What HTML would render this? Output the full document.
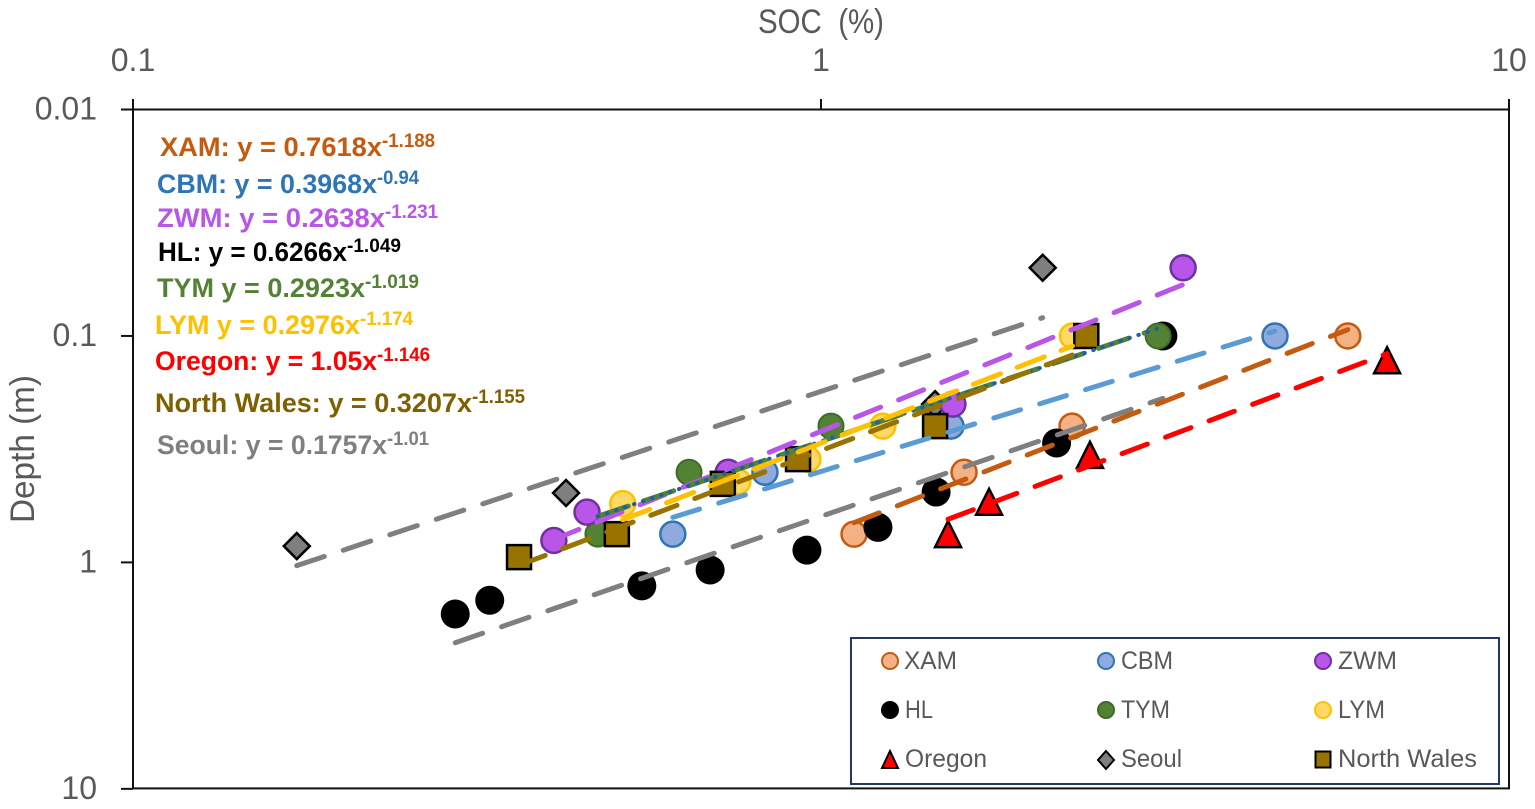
<!DOCTYPE html>
<html lang="en">
<head>
<meta charset="utf-8">
<title>SOC versus depth</title>
<style>
html,body{margin:0;padding:0;background:#fff;width:1535px;height:809px;overflow:hidden}
svg{display:block;font-family:"Liberation Sans",Arial,sans-serif}
.axis-text{font-size:32px;fill:#595959}
.axis-title{font-size:34px;fill:#595959}
.legend-text{font-size:25px;fill:#595959}
.eq{font-size:27px;font-weight:bold}
.sup{font-size:19px;font-weight:bold}
</style>
</head>
<body>
<svg id="chart" xmlns="http://www.w3.org/2000/svg" width="1535" height="809" viewBox="0 0 1535 809">
  <rect x="133" y="109.5" width="1376" height="678.9" fill="#fff" stroke="#111" stroke-width="2"/>
  <g id="axes"></g>
  <text class="axis-title" x="758" y="33" textLength="126" lengthAdjust="spacingAndGlyphs" xml:space="preserve">SOC  (%)</text>
  <text class="axis-title" transform="translate(34,523) rotate(-90)" textLength="148" lengthAdjust="spacingAndGlyphs">Depth (m)</text>
  <g id="markers"></g>
  <g id="trendlines"></g>

  <g>
    <g fill="#C55A11"><text class="eq" x="160" y="156" textLength="222" lengthAdjust="spacingAndGlyphs">XAM: y = 0.7618x</text><text class="sup" x="382" y="147" textLength="53" lengthAdjust="spacingAndGlyphs">-1.188</text></g>
    <g fill="#2E75B6"><text class="eq" x="157" y="193" textLength="220" lengthAdjust="spacingAndGlyphs">CBM: y = 0.3968x</text><text class="sup" x="377" y="184" textLength="42" lengthAdjust="spacingAndGlyphs">-0.94</text></g>
    <g fill="#B955E8"><text class="eq" x="157" y="227" textLength="228" lengthAdjust="spacingAndGlyphs">ZWM: y = 0.2638x</text><text class="sup" x="385" y="218" textLength="53" lengthAdjust="spacingAndGlyphs">-1.231</text></g>
    <g fill="#000000"><text class="eq" x="158" y="261" textLength="189" lengthAdjust="spacingAndGlyphs">HL: y = 0.6266x</text><text class="sup" x="347" y="252" textLength="54" lengthAdjust="spacingAndGlyphs">-1.049</text></g>
    <g fill="#548235"><text class="eq" x="157" y="297" textLength="208" lengthAdjust="spacingAndGlyphs">TYM y = 0.2923x</text><text class="sup" x="365" y="288" textLength="54" lengthAdjust="spacingAndGlyphs">-1.019</text></g>
    <g fill="#FFC000"><text class="eq" x="155" y="334" textLength="205" lengthAdjust="spacingAndGlyphs">LYM y = 0.2976x</text><text class="sup" x="360" y="325" textLength="53" lengthAdjust="spacingAndGlyphs">-1.174</text></g>
    <g fill="#FF0000"><text class="eq" x="155" y="370" textLength="222" lengthAdjust="spacingAndGlyphs">Oregon: y = 1.05x</text><text class="sup" x="377" y="361" textLength="53" lengthAdjust="spacingAndGlyphs">-1.146</text></g>
    <g fill="#7F6000"><text class="eq" x="155" y="412" textLength="317" lengthAdjust="spacingAndGlyphs">North Wales: y = 0.3207x</text><text class="sup" x="472" y="403" textLength="53" lengthAdjust="spacingAndGlyphs">-1.155</text></g>
    <g fill="#7F7F7F"><text class="eq" x="157" y="454" textLength="230" lengthAdjust="spacingAndGlyphs">Seoul: y = 0.1757x</text><text class="sup" x="387" y="445" textLength="42" lengthAdjust="spacingAndGlyphs">-1.01</text></g>
  </g>

  <g>
    <rect x="851" y="638" width="648" height="146" fill="#fff" stroke="#1F3864" stroke-width="2"/>
    <g><circle cx="890" cy="661" r="8" fill="#F4B183" stroke="#C55A11" stroke-width="2"/><text class="legend-text" x="904" y="669" textLength="53" lengthAdjust="spacingAndGlyphs">XAM</text></g>
    <g><circle cx="1106" cy="661" r="8" fill="#8FAADC" stroke="#2E75B6" stroke-width="2"/><text class="legend-text" x="1121" y="669" textLength="52" lengthAdjust="spacingAndGlyphs">CBM</text></g>
    <g><circle cx="1323" cy="661" r="8" fill="#B955E8" stroke="#7030A0" stroke-width="2"/><text class="legend-text" x="1338" y="669" textLength="59" lengthAdjust="spacingAndGlyphs">ZWM</text></g>
    <g><circle cx="890" cy="710" r="9" fill="#000"/><text class="legend-text" x="905" y="718" textLength="28" lengthAdjust="spacingAndGlyphs">HL</text></g>
    <g><circle cx="1106" cy="710" r="8" fill="#548235" stroke="#3F6B2A" stroke-width="2"/><text class="legend-text" x="1121" y="718" textLength="49" lengthAdjust="spacingAndGlyphs">TYM</text></g>
    <g><circle cx="1323" cy="710" r="8" fill="#FFD966" stroke="#FFC000" stroke-width="2"/><text class="legend-text" x="1338" y="718" textLength="47" lengthAdjust="spacingAndGlyphs">LYM</text></g>
    <g><polygon points="890,751 898,768 882,768" fill="#FF0000" stroke="#000" stroke-width="2"/><text class="legend-text" x="905" y="767" textLength="82" lengthAdjust="spacingAndGlyphs">Oregon</text></g>
    <g><polygon points="1106,751 1114,760 1106,769 1098,760" fill="#7F7F7F" stroke="#000" stroke-width="2"/><text class="legend-text" x="1121" y="767" textLength="61" lengthAdjust="spacingAndGlyphs">Seoul</text></g>
    <g><rect x="1315.5" y="751.5" width="15" height="16" fill="#997300" stroke="#000" stroke-width="2"/><text class="legend-text" x="1338" y="767" textLength="139" lengthAdjust="spacingAndGlyphs">North Wales</text></g>
  </g>
</svg>

<script>
// Chart data
const xTickValues = [0.1, 1, 10];
const xTickLabels = ['0.1', '1', '10'];
const yTickValues = [0.01, 0.1, 1, 10];
const yTickLabels = ['0.01', '0.1', '1', '10'];

const xamSoc = [1.117, 1.614, 2.317, 5.83];
const xamDepth = [0.75, 0.40, 0.25, 0.10];
const cbmSoc = [0.609, 0.829, 1.545, 4.57];
const cbmDepth = [0.75, 0.40, 0.25, 0.10];
const zwmSoc = [0.409, 0.457, 0.733, 1.555, 3.36];
const zwmDepth = [0.80, 0.60, 0.40, 0.20, 0.05];
const hlSoc = [0.294, 0.33, 0.549, 0.69, 0.954, 1.21, 1.47, 2.2, 3.14];
const hlDepth = [1.69, 1.47, 1.27, 1.08, 0.883, 0.70, 0.489, 0.297, 0.10];
const tymSoc = [0.474, 0.643, 1.034, 3.09];
const tymDepth = [0.75, 0.40, 0.25, 0.10];
const lymSoc = [0.515, 0.757, 0.957, 1.23, 2.32];
const lymDepth = [0.55, 0.44, 0.35, 0.25, 0.10];
const oregonSoc = [1.53, 1.755, 2.46, 6.65];
const oregonDepth = [0.75, 0.54, 0.335, 0.128];
const seoulSoc = [0.173, 0.426, 1.465, 2.10];
const seoulDepth = [0.847, 0.494, 0.20, 0.05];
const walesSoc = [0.364, 0.505, 0.72, 0.926, 1.465, 2.43];
const walesDepth = [0.948, 0.75, 0.45, 0.35, 0.25, 0.10];

// Power-law fits: depth = coefficient * SOC ^ exponent
const xamFit = [0.7618, -1.188];
const cbmFit = [0.3968, -0.94];
const zwmFit = [0.2638, -1.231];
const hlFit = [0.6266, -1.049];
const tymFit = [0.2923, -1.019];
const lymFit = [0.2976, -1.174];
const oregonFit = [1.05, -1.146];
const seoulFit = [0.1757, -1.01];
const walesFit = [0.3207, -1.155];

// Axis functions
function sx(v) { return 133 + 688 * (Math.log10(v) + 1); }
function sy(v) { return 109.5 + 226.45 * (Math.log10(v) + 2); }

const NS = 'http://www.w3.org/2000/svg';
function make(tag, parent, attrs) {
  const el = document.createElementNS(NS, tag);
  Object.keys(attrs).forEach(function (k) { el.setAttribute(k, attrs[k]); });
  parent.appendChild(el);
  return el;
}

// Axes: ticks and tick labels
const axes = document.getElementById('axes');
xTickValues.forEach(function (v, i) {
  const tick = make('line', axes, { x1: sx(v), x2: sx(v), y1: 99, y2: 109.5, stroke: '#111', 'stroke-width': 2 });
  
  
  const label = make('text', axes, { x: sx(v), y: 71, 'text-anchor': 'middle', class: 'axis-text' });
  
  
  label.textContent = xTickLabels[i];
});
yTickValues.forEach(function (v, i) {
  const tick = make('line', axes, { x1: 121, x2: 133, y1: sy(v), y2: sy(v), stroke: '#111', 'stroke-width': 2 });
  
  
  const label = make('text', axes, { x: 97, y: sy(v) + 10, 'text-anchor': 'end', class: 'axis-text' });
  
  
  label.textContent = yTickLabels[i];
});

// Marker drawing
const markers = document.getElementById('markers');
function drawCircle(group, x, y, r, fill, stroke, sw) {
  const m = make('circle', group, { cx: x, cy: y, r: r, fill: fill, stroke: stroke, 'stroke-width': sw });
  
  
}
function drawPolygon(group, pts, fill) {
  const m = make('polygon', group, { points: pts, fill: fill, stroke: '#000', 'stroke-width': 2.5, 'stroke-linejoin': 'miter' });
  
  
}
function circleSeries(name, soc, depth, r, fill, stroke, sw) {
  const g = make('g', markers, {});
  
  
  soc.forEach(function (v, i) { drawCircle(g, sx(v), sy(depth[i]), r, fill, stroke, sw); });
}

const seoulGroup = make('g', markers, {});


seoulSoc.forEach(function (v, i) {
  const x = sx(v), y = sy(seoulDepth[i]);
  drawPolygon(seoulGroup, [x, y - 13, x + 13, y, x, y + 13, x - 13, y].join(' '), '#7F7F7F');
});

circleSeries('series-xam-points', xamSoc, xamDepth, 12.5, '#F4B183', '#C55A11', 2.5);
circleSeries('series-cbm-points', cbmSoc, cbmDepth, 12.5, '#8FAADC', '#2E75B6', 2.5);
circleSeries('series-hl-points', hlSoc, hlDepth, 14.5, '#000', 'none', 0);
circleSeries('series-tym-points', tymSoc, tymDepth, 12.5, '#548235', '#3F6B2A', 2);
circleSeries('series-zwm-points', zwmSoc, zwmDepth, 12.5, '#B955E8', '#7030A0', 2.5);
circleSeries('series-lym-points', lymSoc, lymDepth, 12.5, '#FFD966', '#FFC000', 2.5);

const oregonGroup = make('g', markers, {});


oregonSoc.forEach(function (v, i) {
  const x = sx(v), y = sy(oregonDepth[i]);
  drawPolygon(oregonGroup, [x, y - 13, x + 13, y + 13, x - 13, y + 13].join(' '), '#FF0000');
});

const walesGroup = make('g', markers, {});


walesSoc.forEach(function (v, i) {
  const x = sx(v), y = sy(walesDepth[i]);
  drawPolygon(walesGroup, [x - 12, y - 12, x + 12, y - 12, x + 12, y + 12, x - 12, y + 12].join(' '), '#997300');
});

// Trendlines computed from each fit over the series' SOC range
const trendlines = document.getElementById('trendlines');
function drawTrend(name, fit, soc, color, dash, width) {
  const lo = Math.min.apply(null, soc), hi = Math.max.apply(null, soc);
  const line = make('line', trendlines, {
    x1: sx(lo), y1: sy(fit[0] * Math.pow(lo, fit[1])),
    x2: sx(hi), y2: sy(fit[0] * Math.pow(hi, fit[1])),
    stroke: color, 'stroke-width': width, 'stroke-linecap': 'round', 'stroke-dasharray': dash
  });
  
  
}
drawTrend('trendline-hl', hlFit, hlSoc, '#7F7F7F', '29 20', 5);
drawTrend('trendline-seoul', seoulFit, seoulSoc, '#7F7F7F', '29 20', 5);
drawTrend('trendline-xam', xamFit, xamSoc, '#C55A11', '27 19.5', 5);
drawTrend('trendline-cbm', cbmFit, cbmSoc, '#5B9BD5', '28 20', 5);
drawTrend('trendline-oregon', oregonFit, oregonSoc, '#FF0000', '27 19.5', 5);
drawTrend('trendline-zwm', zwmFit, zwmSoc, '#B955E8', '27 19.5', 5);
drawTrend('trendline-tym', tymFit, tymSoc, '#548235', '32 16', 5);
drawTrend('trendline-tym-dots', tymFit, tymSoc, '#1F5FA8', '0.5 9', 4);
drawTrend('trendline-lym', lymFit, lymSoc, '#FFC000', '29 18', 5);
drawTrend('trendline-north-wales', walesFit, walesSoc, '#997300', '28 19', 5);
</script>
</body>
</html>
